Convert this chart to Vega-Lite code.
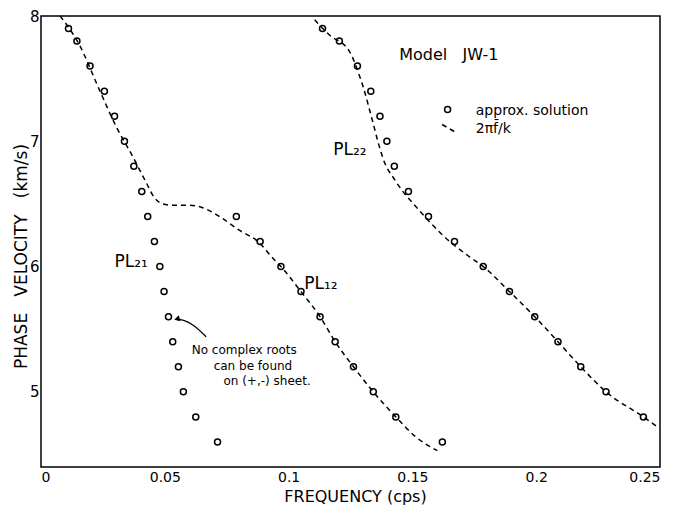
{
  "$schema": "https://vega.github.io/schema/vega-lite/v6.json",
  "width": 619,
  "height": 451,
  "autosize": {"type": "none"},
  "padding": {"left": 41, "top": 16, "right": 18, "bottom": 41},
  "background": "white",
  "config": {
    "font": "DejaVu Sans",
    "view": {"stroke": "black", "strokeWidth": 1.5},
    "axis": {
      "domain": false, "ticks": false, "tickSize": 0,
      "grid": false, "zindex": 1,
      "labelColor": "black", "labelFont": "DejaVu Sans", "labelFontSize": 14,
      "titleColor": "black", "titleFont": "DejaVu Sans", "titleFontSize": 16, "titleFontWeight": "normal"
    }
  },
  "datasets": {
    "curves": [
      {"s": "c1", "f": 0.0077, "v": 8.0}, {"s": "c1", "f": 0.0155, "v": 7.77}, {"s": "c1", "f": 0.0236, "v": 7.41},
      {"s": "c1", "f": 0.0303, "v": 7.12}, {"s": "c1", "f": 0.037, "v": 6.88}, {"s": "c1", "f": 0.0425, "v": 6.67},
      {"s": "c1", "f": 0.0458, "v": 6.55}, {"s": "c1", "f": 0.0492, "v": 6.5}, {"s": "c1", "f": 0.0532, "v": 6.49},
      {"s": "c1", "f": 0.0599, "v": 6.49}, {"s": "c1", "f": 0.0653, "v": 6.47}, {"s": "c1", "f": 0.072, "v": 6.4},
      {"s": "c1", "f": 0.0801, "v": 6.29}, {"s": "c1", "f": 0.0882, "v": 6.19}, {"s": "c1", "f": 0.0935, "v": 6.07},
      {"s": "c1", "f": 0.0969, "v": 6.0}, {"s": "c1", "f": 0.105, "v": 5.8}, {"s": "c1", "f": 0.1127, "v": 5.6},
      {"s": "c1", "f": 0.1188, "v": 5.4}, {"s": "c1", "f": 0.1262, "v": 5.2}, {"s": "c1", "f": 0.1342, "v": 5.0},
      {"s": "c1", "f": 0.1433, "v": 4.8}, {"s": "c1", "f": 0.1514, "v": 4.64}, {"s": "c1", "f": 0.1601, "v": 4.53},
      {"s": "c2", "f": 0.1105, "v": 7.97}, {"s": "c2", "f": 0.1164, "v": 7.85}, {"s": "c2", "f": 0.1245, "v": 7.72},
      {"s": "c2", "f": 0.1285, "v": 7.53}, {"s": "c2", "f": 0.1305, "v": 7.41}, {"s": "c2", "f": 0.1323, "v": 7.28},
      {"s": "c2", "f": 0.1342, "v": 7.14}, {"s": "c2", "f": 0.1359, "v": 7.01}, {"s": "c2", "f": 0.1382, "v": 6.86},
      {"s": "c2", "f": 0.1433, "v": 6.68}, {"s": "c2", "f": 0.1527, "v": 6.45}, {"s": "c2", "f": 0.1628, "v": 6.24},
      {"s": "c2", "f": 0.1736, "v": 6.07}, {"s": "c2", "f": 0.1786, "v": 6.0}, {"s": "c2", "f": 0.1892, "v": 5.8},
      {"s": "c2", "f": 0.1994, "v": 5.6}, {"s": "c2", "f": 0.2088, "v": 5.4}, {"s": "c2", "f": 0.218, "v": 5.2},
      {"s": "c2", "f": 0.2282, "v": 5.0}, {"s": "c2", "f": 0.2433, "v": 4.8}, {"s": "c2", "f": 0.2496, "v": 4.71},
      {"s": "legend", "f": 0.162, "v": 7.134}, {"s": "legend", "f": 0.1669, "v": 7.078}
    ],
    "points": [
      {"s": "PL21", "f": 0.0111, "v": 7.9}, {"s": "PL21", "f": 0.0145, "v": 7.8}, {"s": "PL21", "f": 0.0198, "v": 7.6},
      {"s": "PL21", "f": 0.0256, "v": 7.4}, {"s": "PL21", "f": 0.0297, "v": 7.2}, {"s": "PL21", "f": 0.0337, "v": 7.0},
      {"s": "PL21", "f": 0.0375, "v": 6.8}, {"s": "PL21", "f": 0.0407, "v": 6.6}, {"s": "PL21", "f": 0.0431, "v": 6.4},
      {"s": "PL21", "f": 0.0458, "v": 6.2}, {"s": "PL21", "f": 0.048, "v": 6.0}, {"s": "PL21", "f": 0.0497, "v": 5.8},
      {"s": "PL21", "f": 0.0515, "v": 5.6}, {"s": "PL21", "f": 0.0532, "v": 5.4}, {"s": "PL21", "f": 0.0555, "v": 5.2},
      {"s": "PL21", "f": 0.0575, "v": 5.0}, {"s": "PL21", "f": 0.0625, "v": 4.8}, {"s": "PL21", "f": 0.0713, "v": 4.6},
      {"s": "PL12", "f": 0.0789, "v": 6.4}, {"s": "PL12", "f": 0.0885, "v": 6.2}, {"s": "PL12", "f": 0.0969, "v": 6.0},
      {"s": "PL12", "f": 0.105, "v": 5.8}, {"s": "PL12", "f": 0.1127, "v": 5.6}, {"s": "PL12", "f": 0.1188, "v": 5.4},
      {"s": "PL12", "f": 0.1262, "v": 5.2}, {"s": "PL12", "f": 0.1342, "v": 5.0}, {"s": "PL12", "f": 0.1433, "v": 4.8},
      {"s": "PL12", "f": 0.1621, "v": 4.6},
      {"s": "PL22", "f": 0.1137, "v": 7.9}, {"s": "PL22", "f": 0.1205, "v": 7.8}, {"s": "PL22", "f": 0.1278, "v": 7.6},
      {"s": "PL22", "f": 0.1332, "v": 7.4}, {"s": "PL22", "f": 0.1369, "v": 7.2}, {"s": "PL22", "f": 0.1397, "v": 7.0},
      {"s": "PL22", "f": 0.1427, "v": 6.8}, {"s": "PL22", "f": 0.1484, "v": 6.6}, {"s": "PL22", "f": 0.1565, "v": 6.4},
      {"s": "PL22", "f": 0.167, "v": 6.2}, {"s": "PL22", "f": 0.1786, "v": 6.0}, {"s": "PL22", "f": 0.1892, "v": 5.8},
      {"s": "PL22", "f": 0.1994, "v": 5.6}, {"s": "PL22", "f": 0.2088, "v": 5.4}, {"s": "PL22", "f": 0.218, "v": 5.2},
      {"s": "PL22", "f": 0.2282, "v": 5.0}, {"s": "PL22", "f": 0.2433, "v": 4.8},
      {"s": "legend", "f": 0.1642, "v": 7.254}
    ],
    "xticks": [{"f": 0.05}, {"f": 0.1}, {"f": 0.15}, {"f": 0.2}],
    "yticks": [{"v": 5}, {"v": 6}, {"v": 7}],
    "arrow": [
      {"f": 0.0667, "v": 5.44}, {"f": 0.0613, "v": 5.534}, {"f": 0.0579, "v": 5.568}, {"f": 0.0552, "v": 5.58}
    ],
    "arrowhead": [{"f": 0.0549, "v": 5.582}],
    "pllabels": [
      {"label": "PL₂₁", "f": 0.0297, "v": 6.04},
      {"label": "PL₁₂", "f": 0.1063, "v": 5.86},
      {"label": "PL₂₂", "f": 0.118, "v": 6.93}
    ],
    "note": [
      {"label": "No complex roots", "f": 0.0821, "v": 5.334},
      {"label": "can be found", "f": 0.0856, "v": 5.206},
      {"label": "on (+,-) sheet.", "f": 0.0913, "v": 5.085}
    ],
    "legendtext": [
      {"label": "approx. solution", "f": 0.1756, "v": 7.24},
      {"label": "2πf̄/k", "f": 0.1756, "v": 7.1}
    ],
    "model": [{"label": "Model\u00a0\u00a0\u00a0JW-1", "f": 0.1447, "v": 7.69}]
  },
  "encoding": {
    "x": {
      "field": "f", "type": "quantitative",
      "scale": {"domain": [0, 0.25], "nice": false, "zero": false},
      "axis": {
        "values": [0, 0.05, 0.1, 0.15, 0.2, 0.25],
        "labelExpr": "'' + datum.value",
        "labelPadding": 3,
        "title": "FREQUENCY (cps)",
        "titleX": 314, "titleY": 29, "titleAlign": "center", "titleBaseline": "middle"
      }
    },
    "y": {
      "field": "v", "type": "quantitative",
      "scale": {"domain": [4.4, 8], "nice": false, "zero": false},
      "axis": {
        "values": [5, 6, 7, 8],
        "labelExpr": "'' + datum.value",
        "labelPadding": 2,
        "labelFontSize": 15,
        "title": "PHASE\u00a0\u00a0\u00a0VELOCITY\u00a0\u00a0\u00a0(km/s)",
        "titleFontSize": 17,
        "titleX": -20, "titleY": 240, "titleAlign": "center", "titleBaseline": "middle", "titleAngle": -90
      }
    }
  },
  "layer": [
    {
      "data": {"name": "xticks"},
      "mark": {"type": "tick", "orient": "vertical", "size": 18, "thickness": 1.5, "color": "black", "opacity": 1, "clip": true},
      "encoding": {"y": {"datum": 4.4, "type": "quantitative"}}
    },
    {
      "data": {"name": "yticks"},
      "mark": {"type": "tick", "orient": "horizontal", "size": 18, "thickness": 1.5, "color": "black", "opacity": 1, "clip": true},
      "encoding": {"x": {"datum": 0, "type": "quantitative"}}
    },
    {
      "data": {"name": "curves"},
      "mark": {"type": "line", "color": "black", "strokeWidth": 1.5, "strokeDash": [5, 4], "interpolate": "monotone"},
      "encoding": {"detail": {"field": "s"}}
    },
    {
      "data": {"name": "points"},
      "mark": {"type": "point", "shape": "circle", "size": 36, "color": "black", "strokeWidth": 1.5, "filled": false, "opacity": 1}
    },
    {
      "data": {"name": "arrow"},
      "mark": {"type": "line", "color": "black", "strokeWidth": 1.3, "interpolate": "monotone"},
      "encoding": {"order": {"field": "f"}}
    },
    {
      "data": {"name": "arrowhead"},
      "mark": {"type": "point", "shape": "triangle-left", "size": 40, "filled": true, "color": "black", "opacity": 1, "angle": -15}
    },
    {
      "data": {"name": "pllabels"},
      "mark": {"type": "text", "align": "left", "baseline": "middle", "fontSize": 17, "color": "black"},
      "encoding": {"text": {"field": "label"}}
    },
    {
      "data": {"name": "note"},
      "mark": {"type": "text", "align": "center", "baseline": "middle", "fontSize": 12, "color": "black"},
      "encoding": {"text": {"field": "label"}}
    },
    {
      "data": {"name": "legendtext"},
      "mark": {"type": "text", "align": "left", "baseline": "middle", "fontSize": 14, "color": "black"},
      "encoding": {"text": {"field": "label"}}
    },
    {
      "data": {"name": "model"},
      "mark": {"type": "text", "align": "left", "baseline": "middle", "fontSize": 16, "color": "black"},
      "encoding": {"text": {"field": "label"}}
    }
  ]
}
